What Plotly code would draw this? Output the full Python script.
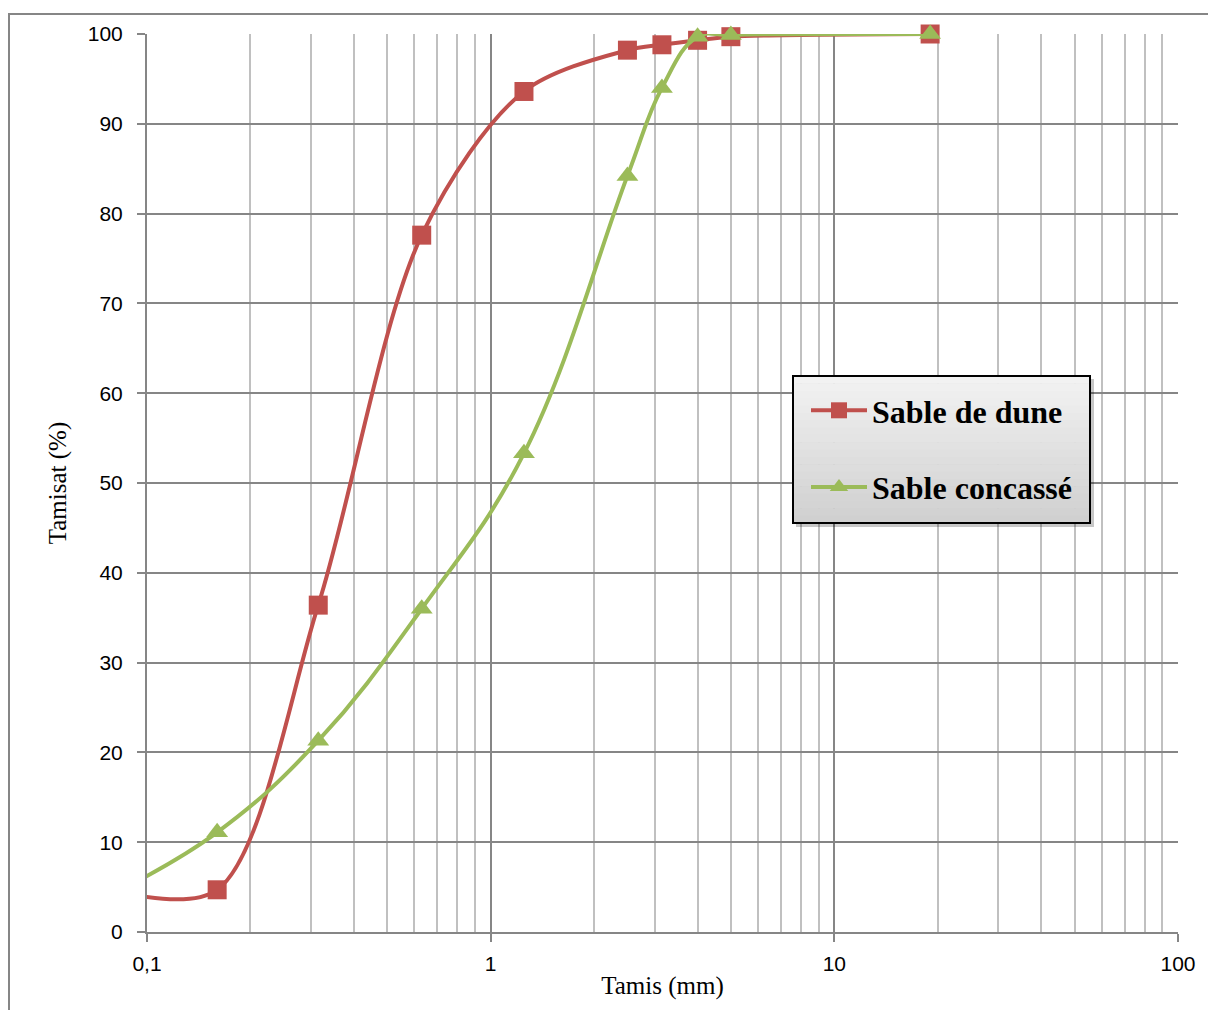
import plotly.graph_objects as go

# ---- data ----
sieve_mm = [0.08, 0.16, 0.315, 0.63, 1.25, 2.5, 3.15, 4, 5, 19]
sable_dune = [4.6, 4.7, 36.4, 77.6, 93.6, 98.2, 98.8, 99.3, 99.7, 100]
sable_concasse = [4.3, 11.1, 21.3, 36.0, 53.3, 84.2, 94.0, 99.7, 99.9, 100]
series_names = ["Sable de dune", "Sable concassé"]
x_tick_vals = [0.1, 1, 10, 100]
x_tick_text = ["0,1", "1", "10", "100"]

RED = "#c0504d"
GREEN = "#9bbb59"
GRID = "#868686"
MINOR = "#c0c0c0"

W, H = 1208, 1010
ML, MR, MT, MB = 147, 30, 34, 78
PW, PH = W - ML - MR, H - MT - MB


def px(xp):
    return (xp - ML) / PW


def py(yp):
    return (H - MB - yp) / PH


fig = go.Figure()

series = [(series_names[0], sable_dune, RED, "square", 19, 0.9),
          (series_names[1], sable_concasse, GREEN, "triangle-up", 19, 1.15)]

for i, (name, vals, col, sym, ms, sm) in enumerate(series):
    # smoothed line (first point lies left of the axis range and is clipped)
    fig.add_trace(go.Scatter(x=sieve_mm, y=vals, mode="lines",
                             line=dict(color=col, width=4, shape="spline", smoothing=sm),
                             showlegend=False, hoverinfo="skip"))
    # visible markers
    fig.add_trace(go.Scatter(x=sieve_mm[1:], y=vals[1:], mode="markers",
                             marker=dict(color=col, symbol=sym, size=ms),
                             cliponaxis=False, showlegend=False, name=name))
    # legend entry
    fig.add_trace(go.Scatter(x=[None], y=[None], mode="lines+markers", name=name,
                             legendgroup=f"g{i}",
                             line=dict(color=col, width=4),
                             marker=dict(color=col, symbol=sym, size=16)))

shapes = []
# outer chart border
shapes.append(dict(type="rect", xref="paper", yref="paper",
                   x0=px(9), x1=px(1240), y0=py(1040), y1=py(14),
                   line=dict(color=GRID, width=2), fillcolor="rgba(0,0,0,0)", layer="below"))

# legend box: shadow, gradient, border
lx0, lx1, ly0, ly1 = 793, 1090, 376, 523
shapes.append(dict(type="rect", xref="paper", yref="paper",
                   x0=px(lx0 + 3), x1=px(lx1 + 4), y0=py(ly1 + 4), y1=py(ly0 + 3),
                   line=dict(width=0), fillcolor="rgba(0,0,0,0.22)", layer="above"))
nb = 20
for k in range(nb):
    t = k / (nb - 1)
    g = int(round(242 - t * (242 - 208)))
    ya = ly0 + (ly1 - ly0) * k / nb
    yb = ly0 + (ly1 - ly0) * (k + 1) / nb
    shapes.append(dict(type="rect", xref="paper", yref="paper",
                       x0=px(lx0), x1=px(lx1), y0=py(yb + 0.5), y1=py(ya),
                       line=dict(width=0), fillcolor=f"rgb({g},{g},{g})", layer="above"))
shapes.append(dict(type="rect", xref="paper", yref="paper",
                   x0=px(lx0), x1=px(lx1), y0=py(ly1), y1=py(ly0),
                   line=dict(color="black", width=2), fillcolor="rgba(0,0,0,0)", layer="above"))

fig.update_layout(
    width=W, height=H,
    margin=dict(l=ML, r=MR, t=MT, b=MB, pad=0),
    paper_bgcolor="white", plot_bgcolor="white",
    shapes=shapes,
    showlegend=True,
    legend=dict(x=px(806), y=py(383), xanchor="left", yanchor="top",
                bgcolor="rgba(0,0,0,0)", borderwidth=0,
                font=dict(family="Liberation Serif", size=32, color="black", weight="bold"),
                itemwidth=56, tracegroupgap=32, traceorder="grouped"),
    xaxis=dict(type="log", range=[-1, 2],
               tickmode="array", tickvals=x_tick_vals, ticktext=x_tick_text,
               showgrid=True, gridcolor=GRID, gridwidth=2,
               showline=True, linecolor=GRID, linewidth=2,
               ticks="outside", ticklen=8, tickwidth=2, tickcolor=GRID,
               ticklabelstandoff=4,
               tickfont=dict(family="Liberation Sans", size=21, color="black"),
               minor=dict(dtick="D1", showgrid=True, gridcolor=MINOR, gridwidth=2, ticks=""),
               title=dict(text="Tamis (mm)", standoff=2,
                          font=dict(family="Liberation Serif", size=25, color="black")),
               zeroline=False),
    yaxis=dict(range=[0, 100], dtick=10,
               showgrid=True, gridcolor=GRID, gridwidth=2,
               showline=True, linecolor=GRID, linewidth=2,
               ticks="outside", ticklen=8, tickwidth=2, tickcolor=GRID,
               ticklabelstandoff=10,
               tickfont=dict(family="Liberation Sans", size=21, color="black"),
               title=dict(text="Tamisat (%)", standoff=14,
                          font=dict(family="Liberation Serif", size=25, color="black")),
               zeroline=False),
)

fig.write_html("out.html")
